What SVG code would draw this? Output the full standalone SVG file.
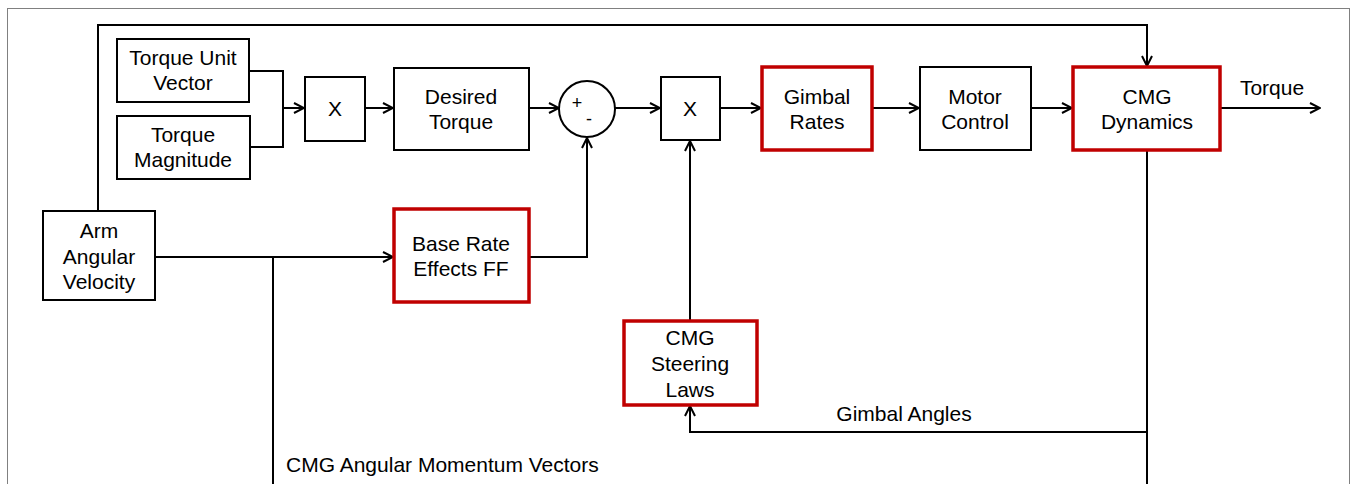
<svg xmlns="http://www.w3.org/2000/svg" width="1358" height="484" viewBox="0 0 1358 484">
<defs>
<style>
.box{fill:#fff;stroke:#000;stroke-width:2}
.red{fill:#fff;stroke:#c00000;stroke-width:3.5}
.ln{fill:none;stroke:#000;stroke-width:2}
.ar{fill:none;stroke:#000;stroke-width:2;marker-end:url(#a)}
text{font-family:"Liberation Sans",Arial,sans-serif;font-size:21px;fill:#000;text-anchor:middle}
.l{text-anchor:start}
</style>
<marker id="a" viewBox="0 0 12 12" refX="11" refY="6" markerWidth="12" markerHeight="12" markerUnits="userSpaceOnUse" orient="auto">
<path d="M1,1 L11,6 L1,11" fill="none" stroke="#000" stroke-width="2"/>
</marker>
</defs>
<rect x="7.5" y="8.5" width="1342" height="480" fill="#fff" stroke="#808080" stroke-width="1"/>
<g id="connectors">
<path class="ar" d="M98,211 V25 H1147 V66"/>
<path class="ln" d="M249,71 H283 V147 H250"/>
<path class="ar" d="M283,108 H304"/>
<path class="ar" d="M365,108 H393"/>
<path class="ar" d="M529,108 H559"/>
<path class="ar" d="M615,108 H660"/>
<path class="ar" d="M720,108 H761"/>
<path class="ar" d="M872,108 H919"/>
<path class="ar" d="M1031,108 H1072"/>
<path class="ar" d="M1220,108 H1320"/>
<path class="ar" d="M155,257 H393"/>
<path class="ln" d="M273,257 V484"/>
<path class="ar" d="M530,257 H587 V138"/>
<path class="ar" d="M690,321 V141"/>
<path class="ln" d="M1147,150 V484"/>
<path class="ar" d="M1147,432 H690 V406"/>
</g>
<g id="torque-unit-vector"><rect class="box" x="117" y="39" width="132" height="63"/><text x="183" y="65">Torque Unit</text><text x="183" y="90">Vector</text></g>
<g id="torque-magnitude"><rect class="box" x="117" y="116" width="133" height="63"/><text x="183" y="142">Torque</text><text x="183" y="167">Magnitude</text></g>
<g id="mult1"><rect class="box" x="305" y="77" width="60" height="64"/><text x="335" y="116">X</text></g>
<g id="desired-torque"><rect class="box" x="394" y="68" width="135" height="82"/><text x="461" y="104">Desired</text><text x="461" y="129">Torque</text></g>
<g id="sum"><circle class="box" cx="587" cy="109" r="28"/><text x="577" y="109" style="font-size:18px">+</text><text x="589" y="125" style="font-size:18px">-</text></g>
<g id="mult2"><rect class="box" x="661" y="77" width="59" height="63"/><text x="690" y="116">X</text></g>
<g id="gimbal-rates"><rect class="red" x="762" y="67" width="110" height="83"/><text x="817" y="104">Gimbal</text><text x="817" y="129">Rates</text></g>
<g id="motor-control"><rect class="box" x="920" y="67" width="111" height="83"/><text x="975" y="104">Motor</text><text x="975" y="129">Control</text></g>
<g id="cmg-dynamics"><rect class="red" x="1073" y="67" width="147" height="83"/><text x="1147" y="104">CMG</text><text x="1147" y="129">Dynamics</text></g>
<g id="torque-label"><text x="1272" y="95">Torque</text></g>
<g id="arm-angular-velocity"><rect class="box" x="43" y="211" width="112" height="89"/><text x="99" y="238">Arm</text><text x="99" y="264">Angular</text><text x="99" y="289">Velocity</text></g>
<g id="base-rate"><rect class="red" x="394" y="209" width="135" height="93"/><text x="461" y="251">Base Rate</text><text x="461" y="276">Effects FF</text></g>
<g id="steering"><rect class="red" x="624" y="321" width="133" height="84"/><text x="690" y="345">CMG</text><text x="690" y="371">Steering</text><text x="690" y="397">Laws</text></g>
<g id="labels"><text x="904" y="421">Gimbal Angles</text><text class="l" x="286" y="472">CMG Angular Momentum Vectors</text></g>
</svg>
